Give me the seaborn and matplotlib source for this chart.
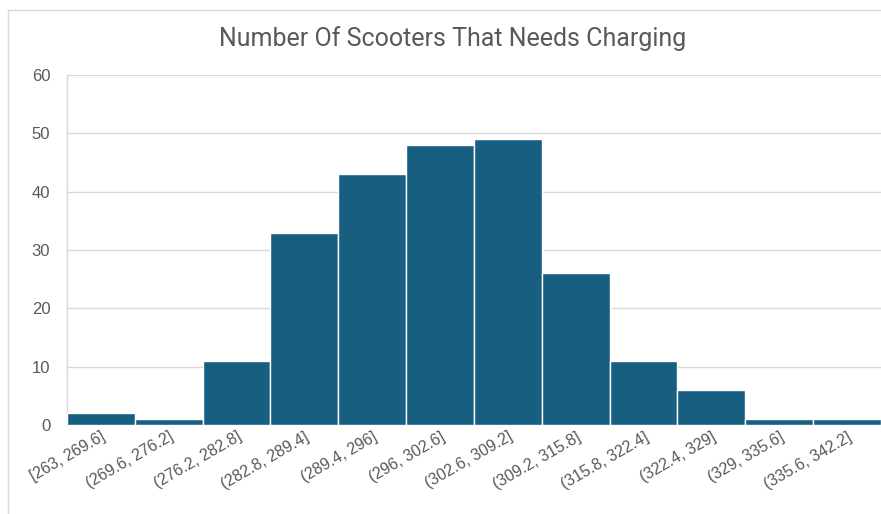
import numpy as np
import pandas as pd
import matplotlib.pyplot as plt
import matplotlib.patches as patches
import seaborn as sns

# bins and counts
bins = ["[263, 269.6]", "(269.6, 276.2]", "(276.2, 282.8]", "(282.8, 289.4]",
        "(289.4, 296]", "(296, 302.6]", "(302.6, 309.2]", "(309.2, 315.8]",
        "(315.8, 322.4]", "(322.4, 329]", "(329, 335.6]", "(335.6, 342.2]"]
counts = [2, 1, 11, 33, 43, 48, 49, 26, 11, 6, 1, 1]

df = pd.DataFrame({"bin": bins, "count": counts})

sns.set_style("white")
plt.rcParams['font.family'] = ['Liberation Sans', 'DejaVu Sans']

fig = plt.figure(figsize=(8.81, 5.14), dpi=100)
ax = fig.add_axes([0.076, 0.173, 0.924, 0.681])

# chart frame like the spreadsheet box
fig.patches.append(patches.Rectangle((8/881, -0.01), 1.0, 1 - 10/514 + 0.01,
                                     transform=fig.transFigure, fill=False,
                                     edgecolor='#d9d9d9', linewidth=1, zorder=0))

sns.barplot(data=df, x="bin", y="count", color="#175E81", width=1.0,
            edgecolor="white", linewidth=1, saturation=1, ax=ax, zorder=3)

ax.set_xlim(-0.5, 11.5)
ax.set_ylim(0, 60)
ax.set_yticks(range(0, 61, 10))
ax.yaxis.grid(True, color='#d9d9d9', linewidth=1, zorder=0)
ax.set_axisbelow(True)
for s in ax.spines.values():
    s.set_visible(False)
ax.spines['left'].set_visible(True)
ax.spines['left'].set_color('#d9d9d9')
ax.spines['left'].set_linewidth(1)
ax.axhline(0, color='#d9d9d9', linewidth=1, zorder=2)

ax.tick_params(axis='both', length=0, labelcolor='#595959')
ax.tick_params(axis='y', pad=12, labelsize=12)
ax.tick_params(axis='x', pad=3, labelsize=11.5)
plt.setp(ax.get_xticklabels(), rotation=30, ha='right', rotation_mode='anchor')
ax.set_xlabel("")
ax.set_ylabel("")

fig.text(0.514, 0.925, "Number Of Scooters That Needs Charging", ha='center', va='center',
         fontsize=18, color='#595959', family=['Roboto', 'DejaVu Sans'], fontstretch='condensed')

fig.savefig("out.png", dpi=100)
